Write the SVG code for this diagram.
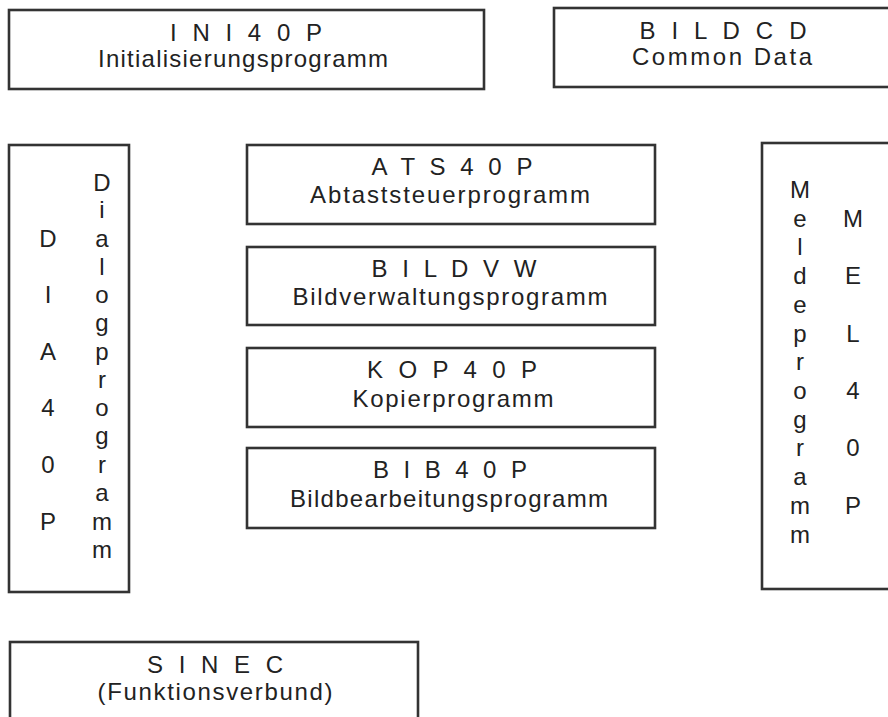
<svg xmlns="http://www.w3.org/2000/svg" width="888" height="717" viewBox="0 0 888 717">
<style>
.box{fill:#fff;stroke:#333;stroke-width:2.6}
text{font-family:"Liberation Sans",Arial,sans-serif;font-size:24px;fill:#222;text-anchor:middle}
</style>
<rect width="888" height="717" fill="#fff"/>
<g id="INI40P">
<rect class="box" x="9" y="10" width="475" height="79"/>
<text x="246" y="41" textLength="152" lengthAdjust="spacing">I N I 4 0 P</text>
<text x="243" y="67" textLength="290" lengthAdjust="spacing">Initialisierungsprogramm</text>
</g>
<g id="BILDCD">
<rect class="box" x="554" y="8" width="350" height="79"/>
<text x="723" y="39" textLength="167" lengthAdjust="spacing">B I L D C D</text>
<text x="722" y="65" textLength="180" lengthAdjust="spacing">Common Data</text>
</g>
<g id="DIA40P">
<rect class="box" x="9" y="145" width="120" height="447"/>
<text x="48" y="247">D</text>
<text x="48" y="303">I</text>
<text x="48" y="360">A</text>
<text x="48" y="416">4</text>
<text x="48" y="473">0</text>
<text x="48" y="530">P</text>
<text x="102" y="191">D</text>
<text x="102" y="218">i</text>
<text x="102" y="247">a</text>
<text x="102" y="275">l</text>
<text x="102" y="303">o</text>
<text x="102" y="331">g</text>
<text x="102" y="360">p</text>
<text x="102" y="388">r</text>
<text x="102" y="416">o</text>
<text x="102" y="444">g</text>
<text x="102" y="473">r</text>
<text x="102" y="501">a</text>
<text x="102" y="530">m</text>
<text x="102" y="558">m</text>
</g>
<g id="MEL40P">
<rect class="box" x="762" y="143" width="140" height="446"/>
<text x="800" y="198">M</text>
<text x="800" y="227">e</text>
<text x="800" y="255">l</text>
<text x="800" y="284">d</text>
<text x="800" y="313">e</text>
<text x="800" y="342">p</text>
<text x="800" y="370">r</text>
<text x="800" y="399">o</text>
<text x="800" y="428">g</text>
<text x="800" y="456">r</text>
<text x="800" y="485">a</text>
<text x="800" y="514">m</text>
<text x="800" y="543">m</text>
<text x="853" y="227">M</text>
<text x="853" y="284">E</text>
<text x="853" y="342">L</text>
<text x="853" y="399">4</text>
<text x="853" y="456">0</text>
<text x="853" y="514">P</text>
</g>
<g id="ATS40P">
<rect class="box" x="247" y="145" width="408" height="79"/>
<text x="452" y="175" textLength="161" lengthAdjust="spacing">A T S 4 0 P</text>
<text x="450" y="203" textLength="280" lengthAdjust="spacing">Abtaststeuerprogramm</text>
</g>
<g id="BILDVW">
<rect class="box" x="247" y="247" width="408" height="78"/>
<text x="454" y="277" textLength="165" lengthAdjust="spacing">B I L D V W</text>
<text x="450" y="305" textLength="315" lengthAdjust="spacing">Bildverwaltungsprogramm</text>
</g>
<g id="KOP40P">
<rect class="box" x="247" y="348" width="408" height="79"/>
<text x="452" y="378" textLength="170" lengthAdjust="spacing">K O P 4 0 P</text>
<text x="453" y="407" textLength="201" lengthAdjust="spacing">Kopierprogramm</text>
</g>
<g id="BIB40P">
<rect class="box" x="247" y="448" width="408" height="80"/>
<text x="450" y="478" textLength="154" lengthAdjust="spacing">B I B 4 0 P</text>
<text x="449" y="507" textLength="318" lengthAdjust="spacing">Bildbearbeitungsprogramm</text>
</g>
<g id="SINEC">
<rect class="box" x="10" y="642" width="408" height="90"/>
<text x="215" y="673" textLength="136" lengthAdjust="spacing">S I N E C</text>
<text x="215" y="700" textLength="235" lengthAdjust="spacing">(Funktionsverbund)</text>
</g>
<g id="connectors"></g>
</svg>
